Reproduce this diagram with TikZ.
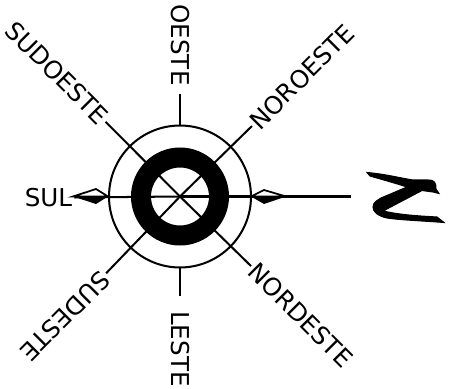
\documentclass[tikz,border=0pt]{standalone}
\usepackage{fontspec}
\setmainfont{DejaVu Sans}
\usepackage{tikz}
\tikzset{
  spoke/.style={line width=1.15pt, black},
  rosering/.style={circle, draw=black, inner sep=0pt, outer sep=0pt},
  dirlabel/.style={font=\fontsize{14pt}{14pt}\selectfont, text height=10.2pt, text depth=0pt, inner ysep=0pt, inner xsep=1pt}
}
\begin{document}
\begin{tikzpicture}[x=0.02cm, y=-0.02cm]
  \useasboundingbox (0,0) rectangle (451,389);

  % Centre and free ends
  \coordinate (C) at (180,196.5);
  \coordinate (eastEnd) at (351,196.5);

  % Rings
  \node[rosering, line width=1.15pt, minimum size=2.84cm] (outerRing) at (C) {};

  % Labels
  \node[dirlabel, rotate=-90, inner xsep=4.5pt] (oeste) at (180,45) {OESTE};
  \node[dirlabel, rotate=-90, inner xsep=8.5pt] (leste) at (180,349) {LESTE};
  \node[dirlabel] (sul) at (48.5,197.5) {SUL};
  \node[dirlabel, rotate=-45] (sudoeste) at (57,73) {SUDOESTE};
  \node[dirlabel, rotate=45] (noroeste) at (302,77) {NOROESTE};
  \node[dirlabel, rotate=-45] (nordeste) at (301,315) {NORDESTE};
  \node[dirlabel, rotate=225] (sudeste) at (65,316) {SUDESTE};

  % Spokes
  \draw[spoke] (oeste) -- (outerRing);
  \draw[spoke] (leste) -- (outerRing);
  \draw[spoke] (C) -- (sul.east);
  \draw[spoke] (C) -- (eastEnd);
  \draw[spoke] (C) -- (sudoeste);
  \draw[spoke] (C) -- (noroeste);
  \draw[spoke] (C) -- (nordeste);
  \draw[spoke] (C) -- (sudeste);

  \node[rosering, line width=0.4cm, minimum size=1.56cm] (blackRing) at (C) {};

  % Needle kites
  \draw[line width=1pt, fill=white] (73,196.5) -- (96,189) -- (108,196.5) -- cycle;
  \fill[black] (73,196.5) -- (96,204) -- (108,196.5) -- cycle;
  \draw[line width=1pt, fill=white] (251,196.5) -- (264,190) -- (286,196.5) -- cycle;
  \fill[black] (251,196.5) -- (264,204) -- (286,196.5) -- cycle;

  % Handwritten N
  \filldraw[black, line width=0.6pt] (367,172.5) .. controls (385,174) and (400,178) .. (413,180)
    -- (428,180) .. controls (435,180) and (436,183) .. (436,189)
    -- (439,193.5) -- (433,192) -- (422,190.5)
    -- (385,210) -- (383.5,211) .. controls (400,215) and (420,216) .. (437,217)
    -- (444,222.5) .. controls (425,221) and (400,220) .. (387,218)
    .. controls (378,216) and (373,212) .. (373,207)
    .. controls (373,202) and (378,200) .. (381,198)
    -- (407,187) .. controls (395,183) and (380,179) .. (370,176) -- cycle;
\end{tikzpicture}
\end{document}
